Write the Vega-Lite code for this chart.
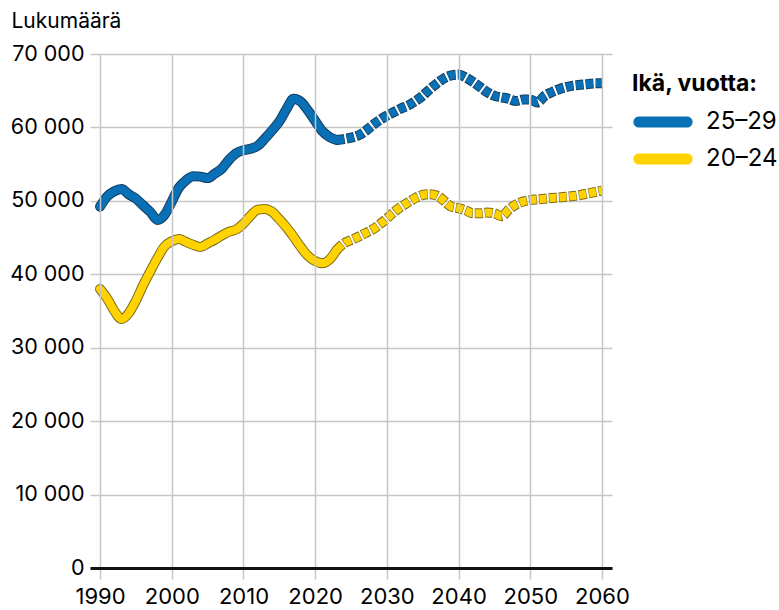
{
  "$schema": "https://vega.github.io/schema/vega-lite/v6.json",
  "width": 522,
  "height": 514,
  "autosize": {"type": "none"},
  "padding": {"left": 90, "top": 54, "right": 167, "bottom": 42},
  "background": "white",
  "config": {"font": "Inter", "view": {"stroke": null}},
  "data": {"values": [
    {"year":1990,"age":"25–29","value":49200,"kind":"toteutunut"},
    {"year":1991,"age":"25–29","value":50600,"kind":"toteutunut"},
    {"year":1992,"age":"25–29","value":51300,"kind":"toteutunut"},
    {"year":1993,"age":"25–29","value":51600,"kind":"toteutunut"},
    {"year":1994,"age":"25–29","value":50900,"kind":"toteutunut"},
    {"year":1995,"age":"25–29","value":50300,"kind":"toteutunut"},
    {"year":1996,"age":"25–29","value":49400,"kind":"toteutunut"},
    {"year":1997,"age":"25–29","value":48500,"kind":"toteutunut"},
    {"year":1998,"age":"25–29","value":47400,"kind":"toteutunut"},
    {"year":1999,"age":"25–29","value":48100,"kind":"toteutunut"},
    {"year":2000,"age":"25–29","value":49900,"kind":"toteutunut"},
    {"year":2001,"age":"25–29","value":51800,"kind":"toteutunut"},
    {"year":2002,"age":"25–29","value":52800,"kind":"toteutunut"},
    {"year":2003,"age":"25–29","value":53350,"kind":"toteutunut"},
    {"year":2004,"age":"25–29","value":53300,"kind":"toteutunut"},
    {"year":2005,"age":"25–29","value":53100,"kind":"toteutunut"},
    {"year":2006,"age":"25–29","value":53700,"kind":"toteutunut"},
    {"year":2007,"age":"25–29","value":54400,"kind":"toteutunut"},
    {"year":2008,"age":"25–29","value":55600,"kind":"toteutunut"},
    {"year":2009,"age":"25–29","value":56500,"kind":"toteutunut"},
    {"year":2010,"age":"25–29","value":56900,"kind":"toteutunut"},
    {"year":2011,"age":"25–29","value":57100,"kind":"toteutunut"},
    {"year":2012,"age":"25–29","value":57500,"kind":"toteutunut"},
    {"year":2013,"age":"25–29","value":58500,"kind":"toteutunut"},
    {"year":2014,"age":"25–29","value":59600,"kind":"toteutunut"},
    {"year":2015,"age":"25–29","value":60800,"kind":"toteutunut"},
    {"year":2016,"age":"25–29","value":62500,"kind":"toteutunut"},
    {"year":2017,"age":"25–29","value":63900,"kind":"toteutunut"},
    {"year":2018,"age":"25–29","value":63500,"kind":"toteutunut"},
    {"year":2019,"age":"25–29","value":62300,"kind":"toteutunut"},
    {"year":2020,"age":"25–29","value":60900,"kind":"toteutunut"},
    {"year":2021,"age":"25–29","value":59500,"kind":"toteutunut"},
    {"year":2022,"age":"25–29","value":58700,"kind":"toteutunut"},
    {"year":2023,"age":"25–29","value":58300,"kind":"toteutunut"},
    {"year":2023,"age":"25–29","value":58300,"kind":"ennuste"},
    {"year":2024,"age":"25–29","value":58400,"kind":"ennuste"},
    {"year":2025,"age":"25–29","value":58600,"kind":"ennuste"},
    {"year":2026,"age":"25–29","value":58900,"kind":"ennuste"},
    {"year":2027,"age":"25–29","value":59500,"kind":"ennuste"},
    {"year":2028,"age":"25–29","value":60300,"kind":"ennuste"},
    {"year":2029,"age":"25–29","value":61000,"kind":"ennuste"},
    {"year":2030,"age":"25–29","value":61600,"kind":"ennuste"},
    {"year":2031,"age":"25–29","value":62100,"kind":"ennuste"},
    {"year":2032,"age":"25–29","value":62600,"kind":"ennuste"},
    {"year":2033,"age":"25–29","value":63000,"kind":"ennuste"},
    {"year":2034,"age":"25–29","value":63600,"kind":"ennuste"},
    {"year":2035,"age":"25–29","value":64300,"kind":"ennuste"},
    {"year":2036,"age":"25–29","value":65200,"kind":"ennuste"},
    {"year":2037,"age":"25–29","value":66000,"kind":"ennuste"},
    {"year":2038,"age":"25–29","value":66700,"kind":"ennuste"},
    {"year":2039,"age":"25–29","value":67100,"kind":"ennuste"},
    {"year":2040,"age":"25–29","value":67200,"kind":"ennuste"},
    {"year":2041,"age":"25–29","value":66800,"kind":"ennuste"},
    {"year":2042,"age":"25–29","value":66200,"kind":"ennuste"},
    {"year":2043,"age":"25–29","value":65500,"kind":"ennuste"},
    {"year":2044,"age":"25–29","value":64800,"kind":"ennuste"},
    {"year":2045,"age":"25–29","value":64300,"kind":"ennuste"},
    {"year":2046,"age":"25–29","value":64100,"kind":"ennuste"},
    {"year":2047,"age":"25–29","value":63900,"kind":"ennuste"},
    {"year":2048,"age":"25–29","value":63600,"kind":"ennuste"},
    {"year":2049,"age":"25–29","value":63800,"kind":"ennuste"},
    {"year":2050,"age":"25–29","value":63800,"kind":"ennuste"},
    {"year":2051,"age":"25–29","value":63400,"kind":"ennuste"},
    {"year":2052,"age":"25–29","value":64300,"kind":"ennuste"},
    {"year":2053,"age":"25–29","value":64800,"kind":"ennuste"},
    {"year":2054,"age":"25–29","value":65200,"kind":"ennuste"},
    {"year":2055,"age":"25–29","value":65500,"kind":"ennuste"},
    {"year":2056,"age":"25–29","value":65700,"kind":"ennuste"},
    {"year":2057,"age":"25–29","value":65800,"kind":"ennuste"},
    {"year":2058,"age":"25–29","value":65900,"kind":"ennuste"},
    {"year":2059,"age":"25–29","value":66000,"kind":"ennuste"},
    {"year":2060,"age":"25–29","value":66000,"kind":"ennuste"},
    {"year":1990,"age":"20–24","value":38000,"kind":"toteutunut"},
    {"year":1991,"age":"20–24","value":36700,"kind":"toteutunut"},
    {"year":1992,"age":"20–24","value":35000,"kind":"toteutunut"},
    {"year":1993,"age":"20–24","value":33900,"kind":"toteutunut"},
    {"year":1994,"age":"20–24","value":34700,"kind":"toteutunut"},
    {"year":1995,"age":"20–24","value":36400,"kind":"toteutunut"},
    {"year":1996,"age":"20–24","value":38500,"kind":"toteutunut"},
    {"year":1997,"age":"20–24","value":40400,"kind":"toteutunut"},
    {"year":1998,"age":"20–24","value":42200,"kind":"toteutunut"},
    {"year":1999,"age":"20–24","value":43800,"kind":"toteutunut"},
    {"year":2000,"age":"20–24","value":44500,"kind":"toteutunut"},
    {"year":2001,"age":"20–24","value":44800,"kind":"toteutunut"},
    {"year":2002,"age":"20–24","value":44400,"kind":"toteutunut"},
    {"year":2003,"age":"20–24","value":44000,"kind":"toteutunut"},
    {"year":2004,"age":"20–24","value":43700,"kind":"toteutunut"},
    {"year":2005,"age":"20–24","value":44200,"kind":"toteutunut"},
    {"year":2006,"age":"20–24","value":44700,"kind":"toteutunut"},
    {"year":2007,"age":"20–24","value":45300,"kind":"toteutunut"},
    {"year":2008,"age":"20–24","value":45800,"kind":"toteutunut"},
    {"year":2009,"age":"20–24","value":46100,"kind":"toteutunut"},
    {"year":2010,"age":"20–24","value":46900,"kind":"toteutunut"},
    {"year":2011,"age":"20–24","value":48000,"kind":"toteutunut"},
    {"year":2012,"age":"20–24","value":48800,"kind":"toteutunut"},
    {"year":2013,"age":"20–24","value":48900,"kind":"toteutunut"},
    {"year":2014,"age":"20–24","value":48500,"kind":"toteutunut"},
    {"year":2015,"age":"20–24","value":47500,"kind":"toteutunut"},
    {"year":2016,"age":"20–24","value":46400,"kind":"toteutunut"},
    {"year":2017,"age":"20–24","value":45100,"kind":"toteutunut"},
    {"year":2018,"age":"20–24","value":43700,"kind":"toteutunut"},
    {"year":2019,"age":"20–24","value":42500,"kind":"toteutunut"},
    {"year":2020,"age":"20–24","value":41800,"kind":"toteutunut"},
    {"year":2021,"age":"20–24","value":41500,"kind":"toteutunut"},
    {"year":2022,"age":"20–24","value":42000,"kind":"toteutunut"},
    {"year":2023,"age":"20–24","value":43300,"kind":"toteutunut"},
    {"year":2023,"age":"20–24","value":43300,"kind":"ennuste"},
    {"year":2024,"age":"20–24","value":44200,"kind":"ennuste"},
    {"year":2025,"age":"20–24","value":44650,"kind":"ennuste"},
    {"year":2026,"age":"20–24","value":45100,"kind":"ennuste"},
    {"year":2027,"age":"20–24","value":45600,"kind":"ennuste"},
    {"year":2028,"age":"20–24","value":46100,"kind":"ennuste"},
    {"year":2029,"age":"20–24","value":46800,"kind":"ennuste"},
    {"year":2030,"age":"20–24","value":47600,"kind":"ennuste"},
    {"year":2031,"age":"20–24","value":48500,"kind":"ennuste"},
    {"year":2032,"age":"20–24","value":49200,"kind":"ennuste"},
    {"year":2033,"age":"20–24","value":49800,"kind":"ennuste"},
    {"year":2034,"age":"20–24","value":50400,"kind":"ennuste"},
    {"year":2035,"age":"20–24","value":50800,"kind":"ennuste"},
    {"year":2036,"age":"20–24","value":50900,"kind":"ennuste"},
    {"year":2037,"age":"20–24","value":50700,"kind":"ennuste"},
    {"year":2038,"age":"20–24","value":50000,"kind":"ennuste"},
    {"year":2039,"age":"20–24","value":49200,"kind":"ennuste"},
    {"year":2040,"age":"20–24","value":49000,"kind":"ennuste"},
    {"year":2041,"age":"20–24","value":48700,"kind":"ennuste"},
    {"year":2042,"age":"20–24","value":48300,"kind":"ennuste"},
    {"year":2043,"age":"20–24","value":48300,"kind":"ennuste"},
    {"year":2044,"age":"20–24","value":48400,"kind":"ennuste"},
    {"year":2045,"age":"20–24","value":48300,"kind":"ennuste"},
    {"year":2046,"age":"20–24","value":47900,"kind":"ennuste"},
    {"year":2047,"age":"20–24","value":48800,"kind":"ennuste"},
    {"year":2048,"age":"20–24","value":49500,"kind":"ennuste"},
    {"year":2049,"age":"20–24","value":49900,"kind":"ennuste"},
    {"year":2050,"age":"20–24","value":50100,"kind":"ennuste"},
    {"year":2051,"age":"20–24","value":50200,"kind":"ennuste"},
    {"year":2052,"age":"20–24","value":50300,"kind":"ennuste"},
    {"year":2053,"age":"20–24","value":50400,"kind":"ennuste"},
    {"year":2054,"age":"20–24","value":50450,"kind":"ennuste"},
    {"year":2055,"age":"20–24","value":50550,"kind":"ennuste"},
    {"year":2056,"age":"20–24","value":50650,"kind":"ennuste"},
    {"year":2057,"age":"20–24","value":50800,"kind":"ennuste"},
    {"year":2058,"age":"20–24","value":51000,"kind":"ennuste"},
    {"year":2059,"age":"20–24","value":51200,"kind":"ennuste"},
    {"year":2060,"age":"20–24","value":51400,"kind":"ennuste"}
  ]},
  "encoding": {
    "x": {
      "field": "year", "type": "quantitative",
      "scale": {"domain": [1988.6, 2061.4], "nice": false, "zero": false},
      "axis": {
        "values": [1990, 2000, 2010, 2020, 2030, 2040, 2050, 2060],
        "format": "d", "title": null, "zindex": 1,
        "grid": true, "gridColor": "#c6c6c6", "gridWidth": 1.5,
        "domain": true, "domainColor": "#111111", "domainWidth": 3,
        "ticks": true, "tickColor": "#c6c6c6", "tickWidth": 1.5, "tickSize": 11,
        "labelFont": "Inter", "labelFontSize": 22, "labelColor": "#000000", "labelPadding": 7, "labelFlush": false
      }
    },
    "y": {
      "field": "value", "type": "quantitative",
      "scale": {"domain": [0, 70000], "nice": false},
      "axis": {
        "values": [0, 10000, 20000, 30000, 40000, 50000, 60000, 70000],
        "zindex": 0,
        "grid": true, "gridColor": "#c6c6c6", "gridWidth": 1.5,
        "domain": false, "ticks": false,
        "labelFont": "Inter", "labelFontSize": 21.5, "labelColor": "#000000", "labelPadding": 6,
        "labelExpr": "replace(format(datum.value, ','), ',', ' ')",
        "title": "Lukumäärä", "titleAngle": 0, "titleX": -79, "titleY": -27,
        "titleAlign": "left", "titleBaseline": "alphabetic",
        "titleFont": "Inter", "titleFontSize": 21, "titleFontWeight": "normal", "titleColor": "#000000"
      }
    }
  },
  "layer": [
    {
      "transform": [{"filter": "datum.kind === 'toteutunut'"}],
      "mark": {"type": "line", "strokeWidth": 10, "interpolate": "monotone", "strokeJoin": "round", "strokeCap": "round"},
      "encoding": {
        "detail": {"field": "age"},
        "color": {"condition": {"test": "datum.age === '25–29'", "value": "#123d60"}, "value": "#7d6d1a"}
      }
    },
    {
      "transform": [{"filter": "datum.kind === 'ennuste'"}],
      "mark": {"type": "line", "strokeWidth": 10, "interpolate": "monotone", "strokeJoin": "round", "strokeCap": "butt", "strokeDash": [8, 2]},
      "encoding": {
        "detail": {"field": "age"},
        "color": {"condition": {"test": "datum.age === '25–29'", "value": "#123d60"}, "value": "#7d6d1a"}
      }
    },
    {
      "transform": [{"filter": "datum.kind === 'toteutunut'"}],
      "mark": {"type": "line", "strokeWidth": 8, "interpolate": "monotone", "strokeJoin": "round", "strokeCap": "round"},
      "encoding": {
        "color": {
          "field": "age", "type": "nominal",
          "scale": {"domain": ["25–29", "20–24"], "range": ["#0a70b5", "#ffd200"]},
          "legend": {
            "orient": "none", "legendX": 542, "legendY": 19, "padding": 0,
            "title": "Ikä, vuotta:", "titleFont": "Inter", "titleFontSize": 23, "titleFontWeight": "bold", "titleColor": "#000000", "titlePadding": 14,
            "labelFont": "Inter", "labelFontSize": 24, "labelColor": "#000000", "labelOffset": 50,
            "rowPadding": 13,
            "symbolType": "M-0.5,-0.5L4.3,-0.5A0.5,0.5 0 0 1 4.3,0.5L-0.5,0.5A0.5,0.5 0 0 1 -0.5,-0.5Z",
            "symbolSize": 400, "symbolStrokeWidth": 1.2,
            "encode": {"symbols": {"update": {
              "fill": {"scale": "color", "field": "value"},
              "stroke": {"signal": "datum.value === '25–29' ? '#123d60' : '#7d6d1a'"},
              "strokeDash": {"value": [1, 0]},
              "opacity": {"value": 1}
            }}}
          }
        }
      }
    },
    {
      "transform": [{"filter": "datum.kind === 'ennuste'"}],
      "mark": {"type": "line", "strokeWidth": 8, "interpolate": "monotone", "strokeJoin": "round", "strokeCap": "butt", "strokeDash": [7, 3], "strokeDashOffset": -0.5},
      "encoding": {
        "color": {
          "field": "age", "type": "nominal",
          "scale": {"domain": ["25–29", "20–24"], "range": ["#0a70b5", "#ffd200"]},
          "legend": null
        }
      }
    }
  ]
}
